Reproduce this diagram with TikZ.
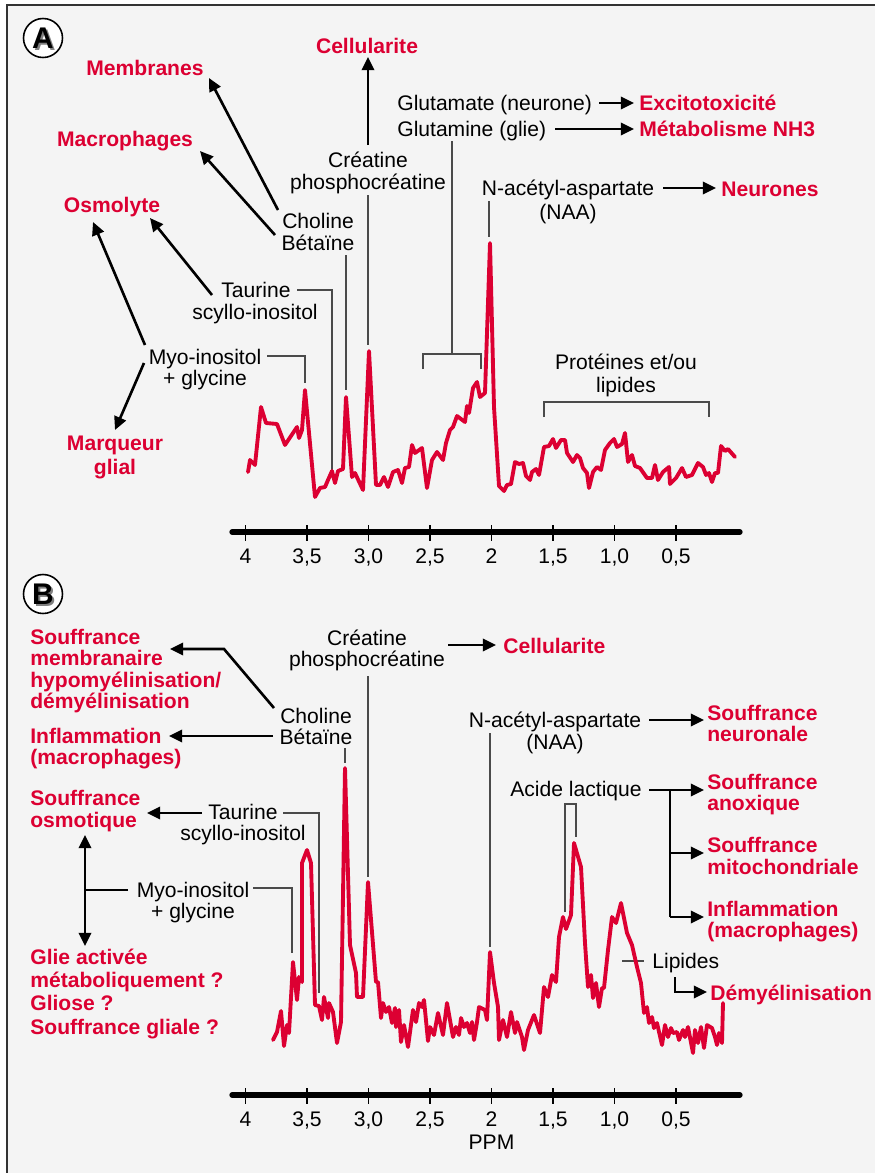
\documentclass[tikz,border=0pt]{standalone}
\usepackage{fontspec}
\setmainfont{Liberation Sans}
\usetikzlibrary{arrows.meta}
\definecolor{bg}{HTML}{F4F4F4}
\definecolor{rd}{HTML}{DC0032}
\definecolor{ln}{HTML}{4A4A4A}
\begin{document}
\begin{tikzpicture}[x=0.02cm,y=-0.02cm,
  lbl/.style={font=\fontsize{12}{13}\selectfont, inner sep=0, anchor=base},
  rlbl/.style={lbl, text=rd, font=\fontsize{12}{13}\selectfont\bfseries},
  arr/.style={line width=1.5pt, -{Triangle[length=7.5pt,width=7pt]}},
  darr/.style={line width=1.5pt, {Triangle[length=7.5pt,width=7pt]}-{Triangle[length=7.5pt,width=7pt]}},
  thinl/.style={line width=0.7pt, draw=ln},
  spec/.style={line width=2.2pt, draw=rd, line join=round, line cap=round},
  axisl/.style={line width=3pt, line cap=round},
  tk/.style={line width=0.8pt},
  badge/.style={circle, draw, fill=white, minimum size=0.78cm, inner sep=0, line width=0.9pt},
  bletter/.style={font=\fontsize{17}{17}\selectfont\bfseries, inner sep=0}
]
\useasboundingbox (0,0) rectangle (875,1173);
\fill[white] (0,0) rectangle (875,1173);
\fill[bg] (7,5) rectangle (875,1173);
\draw[line width=1.1pt, draw=black!80] (7,1173) -- (7,5) -- (875,5);

% ================= PANEL A =================
\node[badge] (cA) at (43,38) {};
\node[bletter, text=gray] (cAs) at (45,40) {A};
\node[bletter] (cAl) at (43,38) {A};

% red labels
\node[rlbl] (aCell) at (367,53) {Cellularite};
\node[rlbl] (aMemb) at (145,75) {Membranes};
\node[rlbl] (aMacro) at (125,146) {Macrophages};
\node[rlbl] (aOsmo) at (112,212) {Osmolyte};
\node[rlbl] (aMarq1) at (115,450) {Marqueur};
\node[rlbl] (aMarq2) at (115,474) {glial};
\node[rlbl, anchor=base west] (aExc) at (639,110) {Excitotoxicité};
\node[rlbl, anchor=base west] (aNH3) at (639,136) {Métabolisme NH3};
\node[rlbl, anchor=base west] (aNeur) at (721,196) {Neurones};

% black labels
\node[lbl, anchor=base west] (aGlu1) at (397,110) {Glutamate (neurone)};
\node[lbl, anchor=base west] (aGlu2) at (397,136) {Glutamine (glie)};
\node[lbl] (aCr1) at (368,167) {Créatine};
\node[lbl] (aCr2) at (368,189) {phosphocréatine};
\node[lbl] (aCho1) at (318,228) {Choline};
\node[lbl] (aCho2) at (318,250) {Bétaïne};
\node[lbl] (aTau1) at (256,297) {Taurine};
\node[lbl] (aTau2) at (255,319) {scyllo-inositol};
\node[lbl] (aMyo1) at (205,364) {Myo-inositol};
\node[lbl] (aMyo2) at (205,385) {+ glycine};
\node[lbl] (aNAA1) at (568,195) {N-acétyl-aspartate};
\node[lbl] (aNAA2) at (568,219) {(NAA)};
\node[lbl] (aProt1) at (626,369) {Protéines et/ou};
\node[lbl] (aProt2) at (626,392) {lipides};

% arrows A
\draw[arr] (368,145) -- (368,57);
\draw[arr] (278,210) -- (209,78);
\draw[arr] (275,235) -- (200,151);
\draw[arr] (212,295) -- (150,218);
\draw[arr] (145,345) -- (93,222);
\draw[arr] (144,363) -- (115,430);
\draw[arr] (599,103) -- (634,103);
\draw[arr] (555,129) -- (634,129);
\draw[arr] (663,188) -- (716,188);

% thin connectors A
\draw[thinl] (267,356) -- (305,356) -- (305,383);
\draw[thinl] (297,290) -- (332,290) -- (332,472);
\draw[thinl] (346,255) -- (346,390);
\draw[thinl] (368,195) -- (368,345);
\draw[thinl] (452,141) -- (452,354);
\draw[thinl] (423,369) -- (423,354) -- (481,354) -- (481,369);
\draw[thinl] (489,201) -- (489,237);
\draw[thinl] (544,417) -- (544,402) -- (709,402) -- (709,417);

% spectrum A
\draw[spec] plot coordinates {(248,472) (250,460) (255,465) (261,407) (266,423) (277,424) (285,445) (297,427) (299,438) (302,430) (305,390) (315,497) (320,488) (325,487) (328,480) (332,471) (335,483) (338,471) (343,469) (346,397) (352,477) (355,473) (363,490) (369,351) (376,485) (380,485) (384,477) (388,487) (393,472) (398,470) (402,483) (405,468) (409,467) (412,445) (415,453) (422,448) (427,488) (432,460) (437,452) (443,460) (446,443) (450,430) (453,427) (457,416) (465,422) (467,406) (469,413) (473,388) (477,382) (480,397) (485,393) (490,243) (494,407) (499,486) (504,491) (507,485) (511,484) (515,462) (519,464) (523,463) (526,476) (530,480) (532,472) (536,469) (539,475) (544,447) (549,446) (553,439) (556,448) (561,440) (565,440) (567,453) (573,462) (577,455) (580,458) (583,468) (587,473) (589,488) (593,472) (597,467) (601,470) (605,450) (610,443) (614,439) (617,447) (622,444) (625,433) (628,462) (632,455) (635,466) (640,468) (647,478) (652,478) (655,465) (658,480) (663,472) (669,467) (670,484) (676,478) (682,468) (686,477) (692,475) (698,463) (703,467) (706,475) (709,473) (712,482) (715,473) (718,473) (721,446) (725,451) (728,449) (735,457)};

% axis A
\draw[axisl] (232,532) -- (740,532);
\foreach \x/\t in {245.5/4,307/{3,5},368.5/{3,0},430/{2,5},491.5/2,553/{1,5},614.5/{1,0},676/{0,5}}{
  \draw[tk] (\x,525) -- (\x,541);
  \node[lbl] at (\x,563) {\t};
}

% ================= PANEL B =================
\node[badge] (cB) at (43,594) {};
\node[bletter, text=gray] (cBs) at (45,596) {B};
\node[bletter] (cBl) at (43,594) {B};

% red labels left
\node[rlbl, anchor=base west] (bSm1) at (30,644) {Souffrance};
\node[rlbl, anchor=base west] (bSm2) at (30,665.5) {membranaire};
\node[rlbl, anchor=base west] (bSm3) at (30,687) {hypomyélinisation/};
\node[rlbl, anchor=base west] (bSm4) at (30,708) {démyélinisation};
\node[rlbl, anchor=base west] (bInf1) at (30,743) {Inflammation};
\node[rlbl, anchor=base west] (bInf2) at (30,764) {(macrophages)};
\node[rlbl, anchor=base west] (bOsm1) at (30,805) {Souffrance};
\node[rlbl, anchor=base west] (bOsm2) at (30,827) {osmotique};
\node[rlbl, anchor=base west] (bGl1) at (30,964) {Glie activée};
\node[rlbl, anchor=base west] (bGl2) at (30,987) {métaboliquement ?};
\node[rlbl, anchor=base west] (bGl3) at (30,1010) {Gliose ?};
\node[rlbl, anchor=base west] (bGl4) at (30,1034) {Souffrance gliale ?};
% red labels right
\node[rlbl, anchor=base west] (bCell) at (503,653) {Cellularite};
\node[rlbl, anchor=base west] (bNeu1) at (707,720) {Souffrance};
\node[rlbl, anchor=base west] (bNeu2) at (707,741) {neuronale};
\node[rlbl, anchor=base west] (bAno1) at (707,789) {Souffrance};
\node[rlbl, anchor=base west] (bAno2) at (707,810) {anoxique};
\node[rlbl, anchor=base west] (bMit1) at (707,852) {Souffrance};
\node[rlbl, anchor=base west] (bMit2) at (707,874) {mitochondriale};
\node[rlbl, anchor=base west] (bIn21) at (707,916) {Inflammation};
\node[rlbl, anchor=base west] (bIn22) at (707,937) {(macrophages)};
\node[rlbl, anchor=base west] (bDem) at (710,1000) {Démyélinisation};

% black labels B
\node[lbl] (bCr1) at (367,645) {Créatine};
\node[lbl] (bCr2) at (367,666) {phosphocréatine};
\node[lbl] (bCho1) at (316,723) {Choline};
\node[lbl] (bCho2) at (316,744) {Bétaïne};
\node[lbl] (bTau1) at (243,819) {Taurine};
\node[lbl] (bTau2) at (243,840) {scyllo-inositol};
\node[lbl] (bMyo1) at (193,897) {Myo-inositol};
\node[lbl] (bMyo2) at (193,918) {+ glycine};
\node[lbl] (bNAA1) at (555,727) {N-acétyl-aspartate};
\node[lbl] (bNAA2) at (555,749) {(NAA)};
\node[lbl, anchor=base east] (bLac) at (642,796) {Acide lactique};
\node[lbl, anchor=base west] (bLip) at (652,968) {Lipides};

% arrows B
\draw[arr] (448,645) -- (496,645);
\draw[arr] (274,708) -- (224,649) -- (170,649);
\draw[arr] (273,736) -- (169,736);
\draw[arr] (202,813) -- (147,813);
\draw[darr] (85,835) -- (85,946);
\draw[line width=1.5pt] (128,890) -- (85,890);
\draw[arr] (649,720) -- (704,720);
\draw[arr] (649,790) -- (704,790);
\draw[line width=1.5pt] (670,790) -- (670,917);
\draw[arr] (670,853) -- (704,853);
\draw[arr] (670,917) -- (704,917);
\draw[arr] (675,977) -- (675,992) -- (707,992);

% thin connectors B
\draw[thinl] (345,748) -- (345,763);
\draw[thinl] (368,676) -- (368,877);
\draw[thinl] (283,813) -- (319,813) -- (319,993);
\draw[thinl] (253,888) -- (292,888) -- (292,953);
\draw[thinl] (490,733) -- (490,947);
\draw[thinl] (565,912) -- (565,804) -- (576,804) -- (576,837);
\draw[thinl] (622,961) -- (644,961);

% spectrum B
\draw[spec] plot coordinates {(273,1040) (277,1032) (281,1011) (284,1046) (287,1025) (289,1033) (293,962) (297,1000) (299,977) (302,982) (302,863) (307,850) (311,863) (315,1005) (319,1006) (322,1020) (324,997) (328,1018) (329,1003) (333,1012) (337,1043) (341,1022) (345,768) (350,945) (356,973) (357,997) (363,997) (368,882) (376,982) (378,982) (381,1018) (383,1003) (386,1012) (389,1007) (392,1023) (395,1008) (396,1027) (399,1010) (401,1042) (404,1025) (408,1047) (413,1010) (416,1022) (419,1003) (422,1007) (424,1000) (428,1041) (430,1027) (434,1035) (438,1013) (443,1035) (447,1003) (453,1037) (456,1027) (459,1035) (461,1018) (464,1027) (467,1023) (470,1033) (472,1022) (474,1040) (477,1022) (479,1007) (485,1010) (487,1020) (490,952) (494,983) (498,1007) (499,1040) (503,1020) (507,1037) (511,1012) (515,1033) (517,1022) (522,1037) (524,1050) (528,1030) (534,1015) (540,1033) (544,987) (548,997) (552,975) (556,982) (559,937) (563,917) (566,929) (571,915) (574,843) (581,867) (585,943) (588,987) (591,975) (593,998) (596,983) (599,1007) (602,988) (604,988) (608,950) (612,917) (616,923) (621,903) (627,933) (632,945) (637,967) (641,983) (644,1013) (647,1007) (649,1023) (652,1017) (654,1028) (657,1023) (662,1045) (665,1025) (668,1037) (671,1028) (673,1033) (677,1032) (679,1040) (683,1030) (685,1037) (688,1027) (693,1053) (695,1030) (698,1043) (701,1027) (704,1048) (707,1025) (712,1028) (715,1037) (717,1045) (719,1033) (722,1043) (723,1003)};

% axis B
\draw[axisl] (232,1095) -- (740,1095);
\foreach \x/\t in {245.5/4,307/{3,5},368.5/{3,0},430/{2,5},491.5/2,553/{1,5},614.5/{1,0},676/{0,5}}{
  \draw[tk] (\x,1088) -- (\x,1104);
  \node[lbl] at (\x,1126) {\t};
}
\node[lbl] (ppm) at (491.5,1149) {PPM};
\end{tikzpicture}
\end{document}
